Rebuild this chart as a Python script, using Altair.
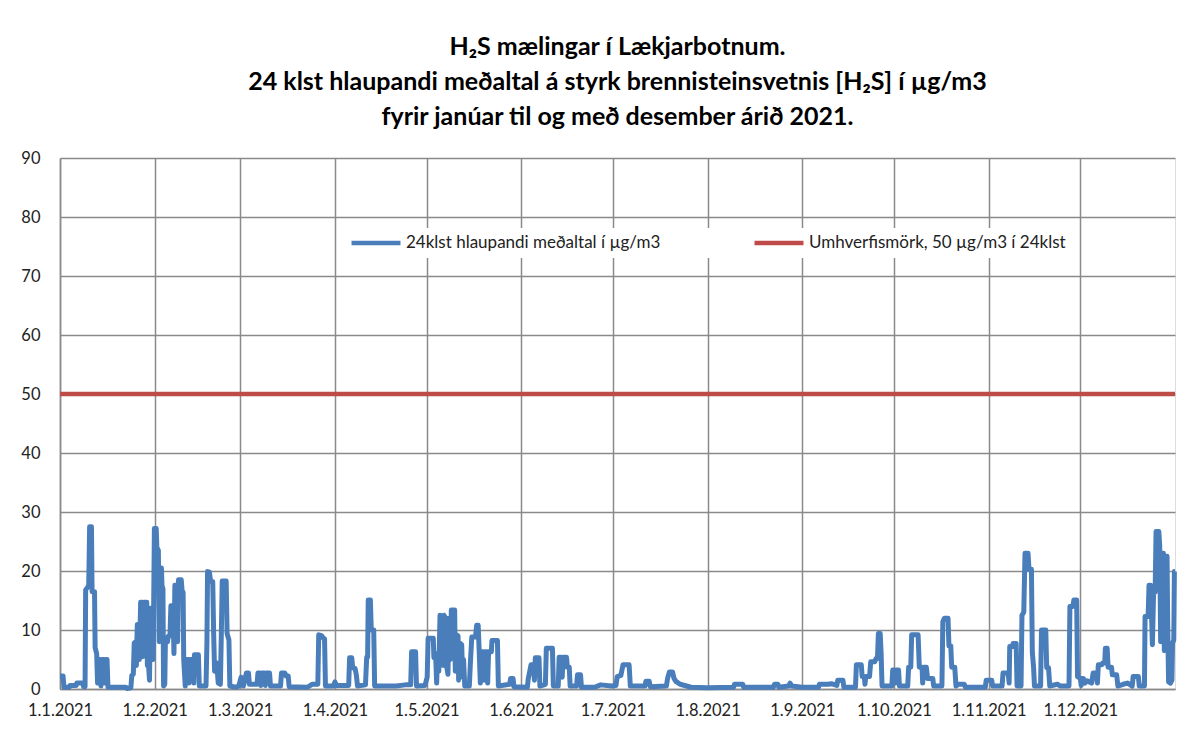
import altair as alt
import pandas as pd

# Series names (legend) and colours
SERIES = ["24klst hlaupandi meðaltal í µg/m3", "Umhverfismörk, 50 µg/m3 í 24klst"]
COLORS = ["#4A7EBB", "#BE4B48"]
LIMIT = 50

TITLE = [
    "H\u2082S mælingar í Lækjarbotnum.",
    "24 klst hlaupandi meðaltal á styrk brennisteinsvetnis [H\u2082S] í µg/m3",
    "fyrir janúar til og með desember árið 2021.",
]

# (day of year offset from 1.1.2021, 24h running mean µg/m3)
jan_feb = [
    (0, 2.2), (1.0, 2.2), (1.3, 0.3), (3.0, 0.3), (3.3, 0.6), (5.3, 0.6), (5.5, 1.0), (7.5, 1.0),
    (7.7, 0.4), (8.2, 0.4), (8.4, 16.8), (9.4, 17.5), (9.7, 27.5), (10.3, 27.5), (10.5, 16.5),
    (11.3, 16.5), (11.5, 7.0), (12.0, 6.0), (12.3, 1.0), (12.6, 5.0), (13.2, 5.0), (13.4, 0.5),
    (13.7, 5.0), (14.5, 5.0), (14.7, 1.0), (15.0, 5.0), (15.4, 5.0), (15.7, 0.3), (21.5, 0.3),
    (22.0, 0.1), (23.2, 0.2), (23.5, 2.3), (24.0, 2.5), (24.3, 7.8), (24.8, 8.0), (25.0, 4.0),
    (25.3, 10.9), (25.8, 11.0), (26.0, 5.0), (26.4, 14.7), (27.0, 14.7), (27.2, 5.5), (27.5, 14.7),
    (28.4, 14.7), (28.6, 4.0), (29.0, 3.8), (29.3, 1.5), (29.6, 13.7), (30.2, 13.7), (30.5, 5.0),
    (30.9, 27.2), (31.5, 27.2), (31.7, 24.0), (32.2, 23.5), (32.5, 8.0), (32.7, 20.5), (33.2, 20.5),
    (33.4, 17.5), (33.7, 17.0), (33.9, 0.5), (34.3, 0.8), (34.5, 8.0), (35.2, 8.0), (35.4, 8.9),
    (36.0, 9.0), (36.3, 14.1), (37.0, 14.1), (37.3, 6.0), (37.6, 17.6), (38.3, 17.6), (38.5, 8.0),
    (38.8, 18.5), (39.7, 18.5), (40.0, 16.4), (40.3, 16.4), (40.5, 5.0), (41.0, 0.5), (41.3, 5.0),
    (42.0, 5.0), (42.2, 1.0), (42.5, 5.0), (43.5, 5.0), (43.8, 1.0), (44.0, 5.8), (45.3, 5.8),
    (45.6, 0.5), (47.8, 0.5), (48.1, 8.0), (48.3, 19.9), (48.9, 19.8), (49.3, 18.3), (50.0, 18.2),
    (50.3, 9.5), (50.6, 3.0), (51.3, 4.4), (51.8, 1.0), (52.5, 0.8), (52.8, 9.0), (53.1, 18.3),
    (54.4, 18.3), (54.7, 9.4), (55.3, 8.3), (55.6, 0.5), (57.5, 0.3), (58.5, 0.5),
]
mar_apr = [
    (59.3, 2.0), (60.0, 0.5), (60.5, 1.5), (61.0, 2.7), (61.7, 2.7), (62.0, 0.8), (64.5, 0.8),
    (64.8, 2.7), (65.5, 2.7), (65.7, 0.6), (66.0, 2.7), (67.0, 2.7), (67.2, 0.6), (67.5, 2.7),
    (68.6, 2.7), (68.9, 0.5), (72.2, 0.5), (72.5, 2.7), (73.6, 2.7), (74.0, 2.2), (74.7, 2.2),
    (75.0, 0.4), (81.0, 0.3), (82.5, 0.8), (84.4, 0.8), (84.7, 9.2), (85.7, 9.0), (86.2, 8.6),
    (86.6, 8.5), (86.9, 0.5), (89.5, 0.5), (90.0, 1.2), (90.5, 0.6), (94.5, 0.6), (94.8, 5.3),
    (95.5, 5.3), (95.8, 3.6), (96.6, 3.5), (97.0, 2.4), (97.4, 0.5), (100.0, 0.7), (100.4, 5.4),
    (100.7, 5.4), (100.9, 15.1), (101.6, 15.1), (101.9, 10.0), (102.7, 10.0), (103.0, 0.5),
    (110.0, 0.5), (113.0, 0.7), (114.8, 0.7), (115.1, 6.3), (116.4, 6.3), (116.7, 0.5), (119.5, 0.6),
]
may_jun = [
    (120.2, 2.0), (120.5, 8.6), (122.2, 8.6), (122.4, 5.3), (123.0, 5.3), (123.3, 1.0), (123.6, 6.0),
    (124.0, 3.0), (124.4, 12.5), (125.2, 12.3), (125.4, 4.0), (125.7, 12.5), (126.3, 12.0),
    (126.6, 3.7), (127.0, 2.5), (127.3, 12.0), (127.8, 5.0), (128.1, 13.4), (129.2, 13.4),
    (129.4, 3.0), (129.7, 9.2), (130.3, 9.0), (130.5, 1.5), (130.8, 7.8), (131.5, 7.5), (131.8, 2.0),
    (132.1, 5.0), (132.5, 0.5), (134.0, 0.5), (134.4, 5.0), (134.8, 8.8), (136.0, 8.8), (136.4, 10.8),
    (136.9, 10.8), (137.2, 6.8), (137.6, 1.0), (137.9, 6.3), (138.6, 6.3), (138.8, 1.5), (139.1, 6.3),
    (139.8, 6.3), (140.0, 1.0), (140.3, 6.3), (141.2, 6.3), (141.4, 8.2), (143.2, 8.2), (143.5, 0.5),
    (147.2, 0.8), (147.5, 1.8), (148.3, 1.8), (148.6, 0.4), (153.0, 0.3), (153.3, 1.8), (154.2, 4.1),
    (155.0, 4.1), (155.3, 1.5), (155.6, 5.3), (156.8, 5.3), (157.1, 0.5), (158.9, 0.8), (159.2, 6.9),
    (161.2, 6.9), (161.5, 0.5), (163.1, 0.5), (163.4, 5.4), (164.2, 5.4), (164.4, 2.0), (164.7, 5.4),
    (165.8, 5.4), (166.1, 3.7), (166.7, 3.7), (167.0, 0.5), (169.1, 0.5), (169.4, 2.4), (170.4, 2.4),
    (170.7, 0.3), (175.0, 0.3), (177.0, 0.7), (180.5, 0.5),
]
jul_aug = [
    (182.0, 0.6), (182.4, 2.1), (183.6, 2.3), (184.3, 4.1), (186.3, 4.1), (186.7, 0.5), (191.5, 0.5),
    (191.8, 1.3), (192.9, 1.3), (193.2, 0.4), (198.5, 0.5), (198.9, 1.8), (199.5, 2.9), (200.5, 2.9),
    (201.0, 1.8), (201.6, 1.3), (203.0, 0.8), (206.6, 0.3), (212.0, 0.2), (220.5, 0.3), (220.8, 0.8),
    (223.5, 0.8), (223.8, 0.3), (233.5, 0.3), (233.9, 0.8), (235.0, 0.8), (235.3, 0.3), (238.5, 0.5),
    (239.0, 1.0), (239.5, 0.5),
]
sep_oct = [
    (243.0, 0.3), (248.3, 0.3), (248.6, 0.8), (251.4, 0.8), (252.5, 0.9), (254.3, 0.6), (254.6, 1.5),
    (256.3, 1.5), (256.6, 0.3), (260.4, 0.3), (260.7, 4.1), (262.3, 4.1), (262.6, 2.1), (263.3, 2.1),
    (263.5, 0.8), (263.8, 2.1), (265.0, 2.1), (265.4, 4.6), (266.7, 4.6), (267.2, 5.2), (267.6, 5.2),
    (267.9, 9.4), (268.5, 9.4), (268.8, 6.0), (269.1, 0.5), (272.3, 0.5), (272.6, 3.2), (273.3, 3.2),
    (273.5, 1.0), (273.8, 3.2), (274.5, 3.2), (274.8, 0.5), (277.5, 0.5), (277.8, 3.7), (278.5, 3.7),
    (278.8, 9.2), (280.9, 9.2), (281.3, 3.7), (282.2, 3.7), (282.4, 1.0), (282.7, 3.7), (283.6, 3.7),
    (284.0, 1.8), (285.7, 1.8), (286.0, 0.5), (288.7, 0.5), (289.0, 11.4), (289.5, 12.0), (290.7, 12.0),
    (291.0, 7.3), (291.6, 7.3), (291.9, 3.7), (292.9, 3.7), (293.3, 0.5), (294.0, 0.8), (296.0, 0.8),
    (296.4, 0.3), (302.9, 0.3), (303.2, 1.5),
]
nov_dec = [
    (305.0, 1.5), (305.3, 0.5), (308.4, 0.5), (308.7, 2.7), (310.4, 2.7), (310.7, 1.0), (310.9, 7.2),
    (311.8, 7.2), (312.0, 7.7), (313.0, 7.7), (313.3, 0.5), (314.6, 0.5), (314.9, 12.5), (315.5, 13.0),
    (315.9, 23.0), (316.9, 23.0), (317.2, 20.3), (318.0, 20.3), (318.3, 6.2), (318.7, 3.7), (319.0, 0.5),
    (321.0, 0.5), (321.3, 10.0), (322.7, 10.0), (323.0, 3.6), (323.6, 3.6), (324.0, 0.5), (326.5, 0.8),
    (327.5, 0.5), (330.3, 0.5), (330.6, 14.0), (331.6, 14.0), (331.9, 15.1), (332.8, 15.1), (333.1, 2.1),
    (334.0, 1.8), (334.3, 0.6), (334.6, 1.8), (335.0, 1.8), (335.5, 1.0), (336.2, 1.4), (337.7, 1.0),
    (338.2, 2.7), (339.3, 2.7), (339.6, 1.0), (339.9, 4.1), (341.0, 4.1), (341.3, 4.4), (342.0, 4.4),
    (342.2, 6.9), (342.8, 6.9), (343.1, 3.7), (344.2, 3.7), (344.5, 2.4), (345.9, 2.4), (346.3, 0.5),
    (348.0, 0.8), (349.5, 1.0), (351.0, 0.5), (351.3, 2.1), (353.0, 2.1), (353.3, 0.5), (355.0, 0.5),
    (355.2, 12.3), (356.2, 12.3), (356.5, 17.6), (357.0, 17.6), (357.3, 13.0), (357.6, 7.5), (358.0, 16.4),
    (358.5, 16.4), (358.8, 26.7), (359.7, 26.7), (360.0, 24.2), (360.3, 8.0), (360.6, 23.0), (361.2, 23.0),
    (361.5, 6.5), (361.8, 22.5), (362.4, 22.5), (362.6, 11.4), (362.9, 1.2), (363.5, 1.0), (364.0, 1.5),
    (364.2, 7.8), (364.6, 8.3), (364.8, 19.9), (365.0, 19.9),
]

START = pd.Timestamp("2021-01-01")
rows = jan_feb + mar_apr + may_jun + jul_aug + sep_oct + nov_dec
df = pd.DataFrame(rows, columns=["day", "value"])
df["date"] = START + pd.to_timedelta(df["day"], unit="D")
df["series"] = SERIES[0]
df = df[["date", "value", "series"]]

limit_df = pd.DataFrame({
    "date": [START, pd.Timestamp("2022-01-01")],
    "value": [LIMIT, LIMIT],
    "series": [SERIES[1], SERIES[1]],
})

FONT = "Lato"
GRID = "#8a8a8a"

month_ticks = [alt.DateTime(year=2021, month=m, date=1) for m in range(1, 13)]

x = alt.X(
    "date:T",
    scale=alt.Scale(domain=[alt.DateTime(year=2021, month=1, date=1),
                            alt.DateTime(year=2022, month=1, date=1)]),
    axis=alt.Axis(values=month_ticks, format="%-d.%-m.%Y", title=None, grid=True,
                  gridColor=GRID, gridWidth=1.5, ticks=False, domainColor=GRID,
                  domainWidth=1.5, labelFont=FONT, labelFontSize=16.5, labelColor="#222222",
                  labelPadding=13, labelOverlap=False, labelFlush=False, labelBound=False),
)
y = alt.Y(
    "value:Q",
    scale=alt.Scale(domain=[0, 90], nice=False),
    axis=alt.Axis(values=list(range(0, 91, 10)), title=None, grid=True, gridColor=GRID,
                  gridWidth=1.5, ticks=False, domainColor=GRID, domainWidth=1.5,
                  labelFont=FONT, labelFontSize=16.5, labelColor="#222222", labelPadding=20,
                  labelFlush=False),
)
color = alt.Color(
    "series:N",
    scale=alt.Scale(domain=SERIES, range=COLORS),
    legend=alt.Legend(orient="none", legendX=283, legendY=70, direction="horizontal",
                      title=None, symbolType="stroke", symbolSize=2400, symbolStrokeWidth=4.5,
                      clipHeight=18, labelFont=FONT, labelFontSize=17, labelColor="#222222",
                      labelLimit=500, labelOffset=3, columnPadding=91, fillColor="white",
                      padding=6),
)

limit = alt.Chart(limit_df).mark_line(strokeWidth=4.5).encode(x=x, y=y, color=color)
series = alt.Chart(df).mark_line(strokeWidth=5, strokeJoin="round").encode(x=x, y=y, color=color)

chart = alt.layer(limit, series).properties(
    width=1115,
    height=531,
    autosize=alt.AutoSizeParams(type="none"),
    padding={"left": 52, "top": 150, "right": 15, "bottom": 52},
    title=alt.TitleParams(text=TITLE, font=FONT, fontSize=25, fontWeight="bold", color="#000000",
                          lineHeight=35, anchor="middle", offset=20),
).configure_view(stroke=GRID, strokeWidth=1.5).configure(background="white")

chart.save("out.html", embed_options={"renderer": "svg", "actions": False})
